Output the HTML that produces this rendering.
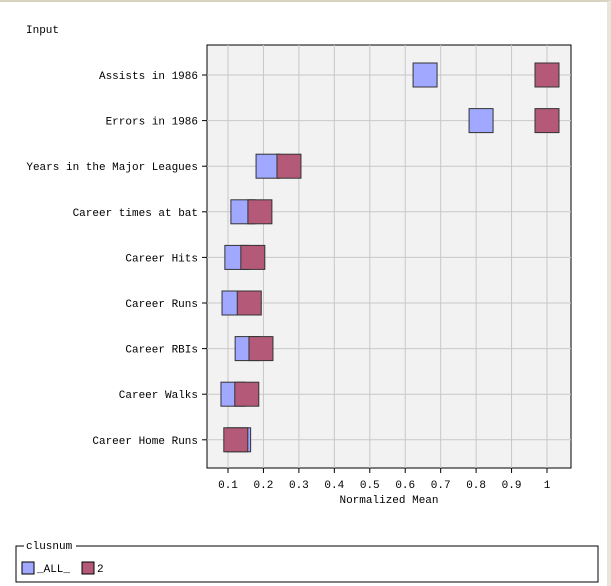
<!DOCTYPE html>
<html><head><meta charset="utf-8"><style>
body{margin:0;background:#fff;width:611px;height:586px;overflow:hidden;font-family:"Liberation Mono","DejaVu Sans Mono",monospace;}
#frame{position:absolute;left:0;top:0;width:607px;height:584px;border-top:2px solid #d8d4c0;border-right:4px solid #e8e6d8;}
text{font-family:"Liberation Mono","DejaVu Sans Mono",monospace;font-size:11px;fill:#000;}
</style></head><body>
<div id="frame"></div>
<svg id="chart" width="611" height="586" style="position:absolute;left:0;top:0">
<text x="26" y="33">Input</text>
<rect x="207" y="45" width="364" height="423" fill="#f2f2f2" stroke="#000"/>
<g id="grid"></g><g id="marks"></g><g id="axes"></g>
<text x="389" y="503" text-anchor="middle">Normalized Mean</text>
<rect x="16" y="546" width="582" height="36" fill="#fff" stroke="#000"/>
<rect x="24" y="539" width="52" height="12" fill="#fff"/>
<text x="26" y="549">clusnum</text>
<g><rect x="22" y="562" width="12" height="12" fill="#a0a8ff" stroke="#000"/><text x="37" y="572">_ALL_</text></g>
<g><rect x="82" y="562" width="12" height="12" fill="#b45a78" stroke="#000"/><text x="97" y="572">2</text></g>
</svg>
<script>
const categories=["Assists in 1986","Errors in 1986","Years in the Major Leagues","Career times at bat","Career Hits","Career Runs","Career RBIs","Career Walks","Career Home Runs"];
const allValues=[0.656,0.814,0.213,0.142,0.125,0.117,0.154,0.114,0.13];
const clusterValues=[1.0,1.0,0.272,0.19,0.17,0.16,0.193,0.153,0.122];
const xTicks=[0.1,0.2,0.3,0.4,0.5,0.6,0.7,0.8,0.9,1];
const NS="http://www.w3.org/2000/svg";
function x(v){return 228+(v-0.1)*(547-228)/0.9;}
function y(i){return 75+i*45.6;}
function mk(tag,attrs,parent){const e=document.createElementNS(NS,tag);for(const k in attrs)e.setAttribute(k,attrs[k]);parent.appendChild(e);return e;}
const grid=document.getElementById('grid'),marks=document.getElementById('marks'),axes=document.getElementById('axes');
xTicks.forEach(t=>{
  const g=mk('line',{x1:x(t),x2:x(t),y1:45,y2:468,stroke:'#c8c8c8'},grid);
  
  
  mk('line',{x1:x(t),x2:x(t),y1:468,y2:473,stroke:'#000'},axes);
  const tl=mk('text',{x:x(t),y:488,'text-anchor':'middle'},axes);
  tl.textContent=String(t);
  
  
});
categories.forEach((c,i)=>{
  const g=mk('line',{x1:207,x2:571,y1:y(i),y2:y(i),stroke:'#c8c8c8'},grid);
  
  
  mk('line',{x1:202,x2:207,y1:y(i),y2:y(i),stroke:'#000'},axes);
  const tl=mk('text',{x:198,y:y(i)+4,'text-anchor':'end'},axes);
  tl.textContent=c;
  
  
  const a=mk('rect',{x:x(allValues[i])-12,y:y(i)-12,width:24,height:24,fill:'#a0a8ff',stroke:'#333'},marks);
  
  
  const b=mk('rect',{x:x(clusterValues[i])-12,y:y(i)-12,width:24,height:24,fill:'#b45a78',stroke:'#333'},marks);
  
  
});
</script>
</body></html>
